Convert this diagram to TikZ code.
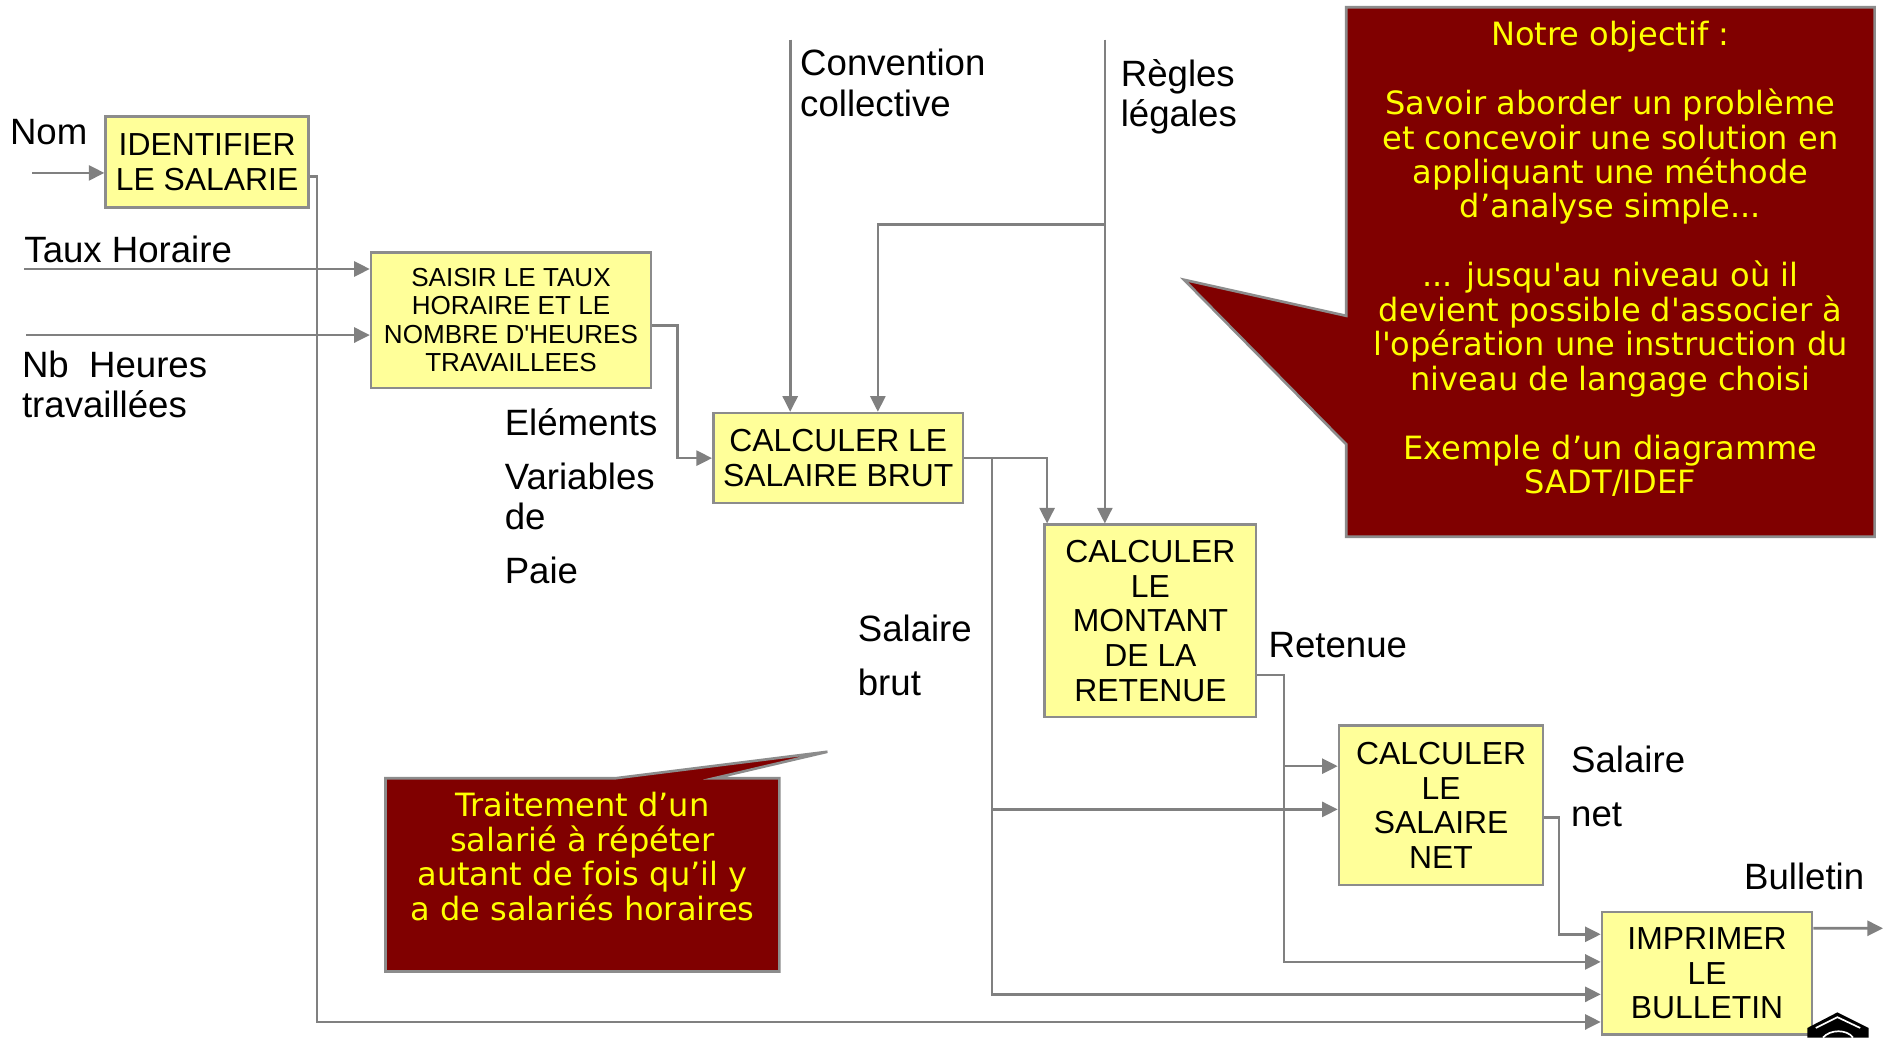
\documentclass[tikz,border=0pt]{standalone}
\usepackage{fontspec}
\setmainfont{Liberation Sans}
\newfontfamily\notefont{DejaVu Sans}
\usetikzlibrary{positioning,arrows.meta,calc}
\definecolor{procfill}{HTML}{FFFF99}
\definecolor{procline}{HTML}{8C8C8C}
\definecolor{wiregray}{HTML}{808080}
\definecolor{notefill}{HTML}{800000}
\definecolor{noteline}{HTML}{8C8C8C}
\definecolor{notetext}{HTML}{FFFF00}

\begin{document}
\begin{tikzpicture}[
  x=0.02cm, y=-0.02cm,
  every node/.style={inner sep=0pt},
  procbox/.style={
    draw=procline, fill=procfill, line width=1.25pt, align=center,
    font=\fontsize{15.1}{16.4}\selectfont,
  },
  lbl/.style={anchor=west, align=left, font=\fontsize{17.35}{19.06}\selectfont},
  flow/.style={-{Triangle[length=0.26cm,width=0.25cm]}, draw=wiregray, line width=1.25pt},
  notebox/.style={draw=noteline, fill=notefill, line width=1.25pt},
  notetxt/.style={
    anchor=north, align=center, text=notetext,
    font=\notefont\fontsize{15.2}{16.33}\selectfont,
  },
]
  \fill[white] (0,0) rectangle (1568,864);
  \useasboundingbox (0,0) rectangle (1568,864);

  % activities
  \node[procbox, minimum width=3.38cm, minimum height=1.52cm] (ident)    at (172.5,135)   {IDENTIFIER\\LE SALARIE};
  \node[procbox, minimum width=4.66cm, minimum height=2.26cm,
        font=\fontsize{12.35}{13.49}\selectfont] (saisir) at (425.5,266.5)
        {SAISIR LE TAUX\\HORAIRE ET LE\\NOMBRE D\textquotesingle HEURES\\TRAVAILLEES};
  \node[procbox, minimum width=4.16cm, minimum height=1.5cm]  (calcbrut) at (698,381.5)   {CALCULER LE\\SALAIRE BRUT};
  \node[procbox, minimum width=3.52cm, minimum height=3.2cm]  (retenue)  at (958,517)     {CALCULER\\LE\\MONTANT\\DE LA\\RETENUE};
  \node[procbox, minimum width=3.4cm,  minimum height=2.66cm] (salnet)   at (1200,670.5)  {CALCULER\\LE\\SALAIRE\\NET};
  \node[procbox, minimum width=3.5cm,  minimum height=2.04cm] (print)    at (1421.5,810.5) {IMPRIMER\\LE\\BULLETIN};

  % flow labels
  \node[lbl] (lnom)   at (8,110)     {Nom};
  \node[lbl] (ltaux)  at (20,208)    {Taux Horaire};
  \node[lbl] (lnbh)   at (18,320)    {Nb\ \ Heures\\travaillées};
  \node[lbl] (lconv)  at (666,69)    {Convention\\collective};
  \node[lbl] (lregl)  at (933,80.5)  {Règles\\légales};
  \node[lbl] (lelem)  at (420,413.5) {Eléments\\[6.5pt]Variables\\de\\[6.5pt]Paie};
  \node[lbl] (lbrut)  at (714,545.5) {Salaire\\[6.5pt]brut};
  \node[lbl] (lret)   at (1056,537)  {Retenue};
  \node[lbl] (lnet)   at (1308,654.5) {Salaire\\[6.5pt]net};
  \node[lbl] (lbull)  at (1452,730)  {Bulletin};

  % inputs and controls
  \coordinate (nom)  at (27,144);
  \coordinate (taux) at (20,224);
  \coordinate (nbh)  at (22,279);
  \coordinate (conv) at (658,33);
  \coordinate (regl) at (920,33);
  \coordinate (reglsplit) at (920,187);
  \coordinate (bullout) at (1568,773);

  \draw[flow] (nom)  -- (nom -| ident.west);
  \draw[flow] (taux) -- (taux -| saisir.west);
  \draw[flow] (nbh)  -- (nbh -| saisir.west);
  \draw[flow] (conv) -- (conv |- calcbrut.north);
  \draw[flow] (regl) -- (regl |- retenue.north);
  \draw[flow] (reglsplit) -| ([xshift=0.66cm]calcbrut.north);

  % outputs
  \draw[flow] ([yshift=-0.24cm]ident.east) -- ++(6,0) |- ([yshift=-0.81cm]print.west);
  \draw[flow] ([yshift=-0.09cm]saisir.east) -- ++(21,0) |- (calcbrut.west);

  \coordinate (brutsplit) at ([xshift=0.46cm]calcbrut.east);
  \coordinate (netin2) at ([yshift=-0.07cm]salnet.west);
  \draw[flow] (calcbrut.east) -| ([xshift=0.06cm]retenue.north west);
  \draw[flow] (brutsplit) |- ([yshift=-0.35cm]print.west);
  \draw[flow] (brutsplit |- netin2) -- (netin2);

  \coordinate (retsplit) at ([xshift=0.44cm,yshift=-0.9cm]retenue.east);
  \coordinate (netin1) at ([yshift=0.65cm]salnet.west);
  \draw[flow] ([yshift=-0.9cm]retenue.east) -- (retsplit) |- ([yshift=0.19cm]print.west);
  \draw[flow] (retsplit |- netin1) -- (netin1);

  \draw[flow] ([yshift=-0.21cm]salnet.east) -- ++(12,0) |- ([yshift=0.65cm]print.west);
  \draw[flow] ([yshift=0.75cm]print.east) -- (bullout);

  % callouts
  \draw[notebox] (1121,6) -- (1561,6) -- (1561,447) -- (1121,447) -- (1121,370)
    -- (986,233) -- (1121,263) -- cycle;
  \node[notetxt] (objectif) at (1341,17.4) {Notre objectif :\\[16.33pt]
    Savoir aborder un problème\\
    et concevoir une solution en\\
    appliquant une méthode\\
    d’analyse simple...\\[16.33pt]
    ... jusqu\textquotesingle au niveau où il\\
    devient possible d\textquotesingle associer à\\
    l\textquotesingle opération une instruction du\\
    niveau de langage choisi\\[16.33pt]
    Exemple d’un diagramme\\
    SADT/IDEF};

  \draw[notebox] (321,648) -- (513,648) -- (689,626) -- (595,648) -- (649,648)
    -- (649,809) -- (321,809) -- cycle;
  \node[notetxt] (boucle) at (485,659.4) {Traitement d’un\\salarié à répéter\\
    autant de fois qu’il y\\a de salariés horaires};

  % cap logo, cut by the page edge
  \fill[black] (1505,856) -- (1530,843) -- (1556,856) -- (1556,864) -- (1505,864) -- cycle;
  \draw[white, line width=0.8pt] (1512,856) -- (1530,847) -- (1549,856);
  \draw[white, line width=0.8pt] (1518,864) .. controls (1524,857) and (1538,857) .. (1543,864);
\end{tikzpicture}
\end{document}
